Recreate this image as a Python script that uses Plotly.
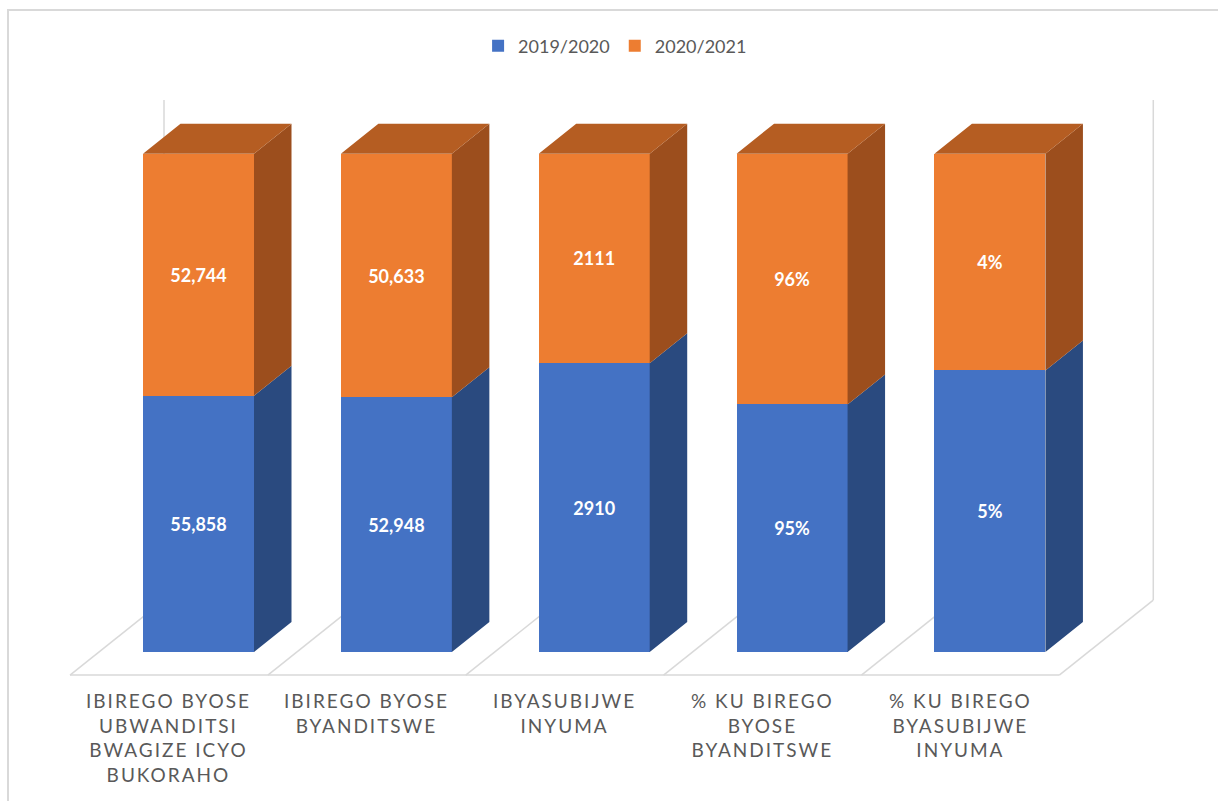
import plotly.graph_objects as go

# ---------------- data ----------------
categories = [
    "IBIREGO BYOSE<br>UBWANDITSI<br>BWAGIZE ICYO<br>BUKORAHO",
    "IBIREGO BYOSE<br>BYANDITSWE",
    "IBYASUBIJWE<br>INYUMA",
    "% KU BIREGO<br>BYOSE<br>BYANDITSWE",
    "% KU BIREGO<br>BYASUBIJWE<br>INYUMA",
]
series_names = ["2019/2020", "2020/2021"]
values_2019 = [55858, 52948, 2910, 94.8, 5.2]
values_2020 = [52744, 50633, 2111, 96.0, 4.0]
labels_2019 = ["55,858", "52,948", "2910", "95%", "5%"]
labels_2020 = ["52,744", "50,633", "2111", "96%", "4%"]

# ---------------- styling / geometry ----------------
W, H = 1218, 801
ML, MR, MT, MB = 60, 50, 54, 121
XR = [-0.7, 4.9]
YR = [-5.6, 120]
xs = (W - ML - MR) / (XR[1] - XR[0])   # px per x unit
ys = (H - MT - MB) / (YR[1] - YR[0])   # px per y unit


def ux(px):
    return px / xs


def uy(px):
    return px / ys


def px_to_paper_x(px):
    return (px - ML) / (W - ML - MR)


def px_to_paper_y(py):
    return (H - MB - py) / (H - MT - MB)


FRONT = ["#4472C4", "#ED7D31"]
SIDE = ["#2A4A7F", "#9C4E1D"]
TOP = "#B55D22"
GRID = "#D9D9D9"
TXT = "#595959"
FONT = "Lato"

bw = ux(111)                    # bar width
ddx, ddy = ux(37.5), uy(30)     # bar depth offset
xpos = list(range(len(categories)))

share_2019 = [a / (a + b) * 100 for a, b in zip(values_2019, values_2020)]
share_2020 = [100 - s for s in share_2019]

fig = go.Figure()
for vals, labs, name, col in ((values_2019, labels_2019, series_names[0], FRONT[0]),
                              (values_2020, labels_2020, series_names[1], FRONT[1])):
    fig.add_trace(go.Bar(
        x=xpos, y=vals, name=name, width=bw,
        marker=dict(color=col, line=dict(width=0)),
        text=labs, textposition="inside", insidetextanchor="middle",
        textangle=0, constraintext="none",
        textfont=dict(family=FONT, size=18, color="white", weight="bold"),
        hoverinfo="skip",
    ))

# side faces and top faces computed from the stacked shares
side_x = [[], []]
side_y = [[], []]
top_x, top_y = [], []
for i, (s1, s2) in enumerate(zip(share_2019, share_2020)):
    xr = i + bw / 2
    xl = i - bw / 2
    segs = [(0, s1), (s1, s1 + s2)]
    for k, (y0, y1) in enumerate(segs):
        side_x[k] += [xr, xr + ddx, xr + ddx, xr, xr, None]
        side_y[k] += [y0, y0 + ddy, y1 + ddy, y1, y0, None]
    ytop = s1 + s2
    top_x += [xl, xl + ddx, xr + ddx, xr, xl, None]
    top_y += [ytop, ytop + ddy, ytop + ddy, ytop, ytop, None]

for k in range(2):
    fig.add_trace(go.Scatter(
        x=side_x[k], y=side_y[k], mode="lines", fill="toself",
        fillcolor=SIDE[k], line=dict(width=0, color=SIDE[k]),
        showlegend=False, hoverinfo="skip",
    ))
fig.add_trace(go.Scatter(
    x=top_x, y=top_y, mode="lines", fill="toself",
    fillcolor=TOP, line=dict(width=0, color=TOP),
    showlegend=False, hoverinfo="skip",
))

# floor and wall edges
n = len(categories)
yf = -uy(23)
fdx, fdy = ux(94), uy(75)
x0 = -ux(198.5 - 70)
yw = uy(652 - 100)
shapes = []
line = dict(color=GRID, width=1.5)
shapes.append(dict(type="line", xref="x", yref="y", x0=x0, y0=yf, x1=x0 + n, y1=yf,
                   line=line, layer="below"))
for k in range(n + 1):
    shapes.append(dict(type="line", xref="x", yref="y", x0=x0 + k, y0=yf,
                       x1=x0 + k + fdx, y1=yf + fdy, line=line, layer="below"))
for xx in (x0 + fdx, x0 + n + fdx):
    shapes.append(dict(type="line", xref="x", yref="y", x0=xx, y0=yf + fdy,
                       x1=xx, y1=yw, line=line, layer="below"))

# outer chart border (only top and left visible in the reference)
shapes.append(dict(type="rect", xref="paper", yref="paper",
                   x0=px_to_paper_x(8), y0=px_to_paper_y(830),
                   x1=px_to_paper_x(1240), y1=px_to_paper_y(10),
                   line=dict(color=GRID, width=2), layer="below"))

# category labels
annotations = []
for i, c in enumerate(categories):
    annotations.append(dict(
        x=i + x0 + 0.5, y=px_to_paper_y(687), xref="x", yref="paper",
        text='<span style="letter-spacing:2px">' + c + "</span>",
        showarrow=False, xanchor="center", yanchor="top", align="center",
        font=dict(family=FONT, size=19, color=TXT),
    ))

fig.update_layout(
    width=W, height=H,
    margin=dict(l=ML, r=MR, t=MT, b=MB, autoexpand=False),
    paper_bgcolor="white", plot_bgcolor="white",
    barmode="stack", barnorm="percent",
    xaxis=dict(range=XR, visible=False, fixedrange=True),
    yaxis=dict(range=YR, visible=False, fixedrange=True),
    showlegend=True,
    legend=dict(orientation="h", xref="container", yref="container",
                x=0.505, y=1 - 46 / H, xanchor="center", yanchor="middle",
                font=dict(family=FONT, size=18, color=TXT),
                traceorder="normal"),
    shapes=shapes,
    annotations=annotations,
)

fig.write_html("out.html", config={"displayModeBar": False},
               post_script="document.body.style.margin='0px';")
